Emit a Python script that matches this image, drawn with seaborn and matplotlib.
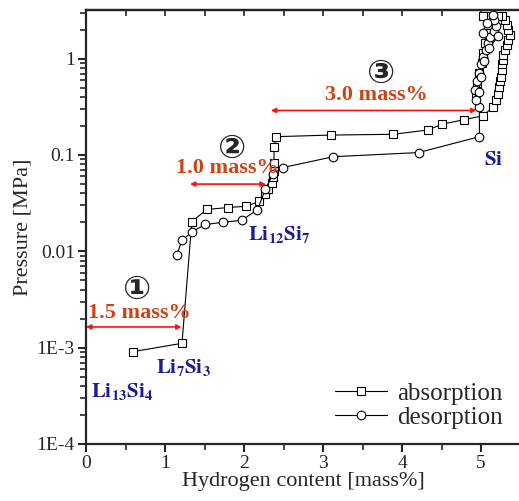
import matplotlib
matplotlib.use("Agg")
import matplotlib.pyplot as plt
from matplotlib import font_manager as fm
import seaborn as sns
import pandas as pd

# ---------------- data ----------------
abs_x = [0.60, 1.215, 1.34, 1.53, 1.80, 2.03, 2.19, 2.27, 2.31, 2.35, 2.37, 2.38, 2.38, 2.38, 2.41,
         3.10, 3.89, 4.33, 4.51, 4.78, 5.02,
         5.156, 5.19, 5.22, 5.23, 5.24, 5.25, 5.26, 5.27, 5.275, 5.28, 5.30, 5.325, 5.345, 5.37,
         5.345, 5.325, 5.30, 5.26, 5.22, 5.07, 5.03,
         5.09, 5.07, 5.05, 5.03, 5.01, 4.98, 4.95, 4.94]
abs_p = [0.00091, 0.00111, 0.0204, 0.0272, 0.0285, 0.0294, 0.033, 0.039, 0.044, 0.051, 0.059, 0.069, 0.083, 0.122, 0.155,
         0.161, 0.164, 0.182, 0.209, 0.232, 0.255,
         0.315, 0.375, 0.43, 0.51, 0.58, 0.65, 0.76, 0.87, 0.98, 1.10, 1.24, 1.40, 1.57, 1.78,
         2.0, 2.26, 2.54, 2.75, 2.75, 2.75, 2.75,
         2.26, 1.85, 1.46, 1.15, 0.90, 0.71, 0.56, 0.44]

des_x = [1.148, 1.215, 1.34, 1.51, 1.73, 1.97, 2.17, 2.27, 2.37, 2.49, 3.13, 4.21, 4.98,
         4.98, 4.94, 4.92, 4.95, 4.97, 5.00, 5.03, 5.06, 5.09, 5.12, 5.16, 5.19, 5.165, 5.15,
         5.07, 5.02, 5.22, 5.10, 5.04, 5.00, 4.97]
des_p = [0.0091, 0.013, 0.0159, 0.019, 0.020, 0.021, 0.027, 0.044, 0.064, 0.074, 0.096, 0.106, 0.155,
         0.315, 0.375, 0.47, 0.58, 0.71, 0.87, 1.04, 1.24, 1.46, 1.68, 1.92, 2.17, 2.50, 2.87,
         2.35, 1.85, 1.70, 1.30, 0.95, 0.65, 0.45]

yticks = [1e-4, 1e-3, 1e-2, 1e-1, 1]
ytick_labels = ["1E-4", "1E-3", "0.01", "0.1", "1"]
xticks = [0, 1, 2, 3, 4, 5]

# ---------------- style ----------------
sns.set_style("ticks")
plt.rcParams["font.family"] = ["Liberation Serif", "DejaVu Serif"]
plt.rcParams["mathtext.fontset"] = "stix"

fig = plt.figure(figsize=(5.19, 5.01), dpi=100)
ax = fig.add_axes([86 / 519, 57 / 501, 434.5 / 519, 434 / 501])

df_a = pd.DataFrame({"x": abs_x, "p": abs_p})
df_d = pd.DataFrame({"x": des_x, "p": des_p})

sns.lineplot(data=df_a, x="x", y="p", ax=ax, sort=False, estimator=None,
             color="black", lw=0.8, marker="s", ms=5.5, mfc="white", mec="black",
             mew=0.8, label="absorption")
sns.lineplot(data=df_d, x="x", y="p", ax=ax, sort=False, estimator=None,
             color="black", lw=0.8, marker="o", ms=6.2, mfc="white", mec="black",
             mew=0.8, label="desorption")

ax.set_yscale("log")
ax.set_xlim(0, 5.5)
ax.set_ylim(1e-4, 3.2)
ax.set_xticks(xticks)
ax.set_xticks([0.5, 1.5, 2.5, 3.5, 4.5], minor=True)
ax.set_yticks(yticks)
ax.set_yticklabels(ytick_labels)
ax.tick_params(axis="both", which="major", labelsize=14, length=6, width=1.5, direction="out", pad=2)
ax.tick_params(axis="both", which="minor", length=4, width=1.2, direction="out")
ax.set_xlabel("Hydrogen content [mass%]", fontsize=16, labelpad=0)
ax.set_ylabel("Pressure [MPa]", fontsize=16, labelpad=3)

for s in ["left", "bottom", "top"]:
    ax.spines[s].set_linewidth(1.6)
ax.spines["right"].set_visible(False)

sec = ax.secondary_xaxis("top")
sec.set_xticks(xticks)
sec.set_xticks([0.5, 1.5, 2.5, 3.5, 4.5], minor=True)
sec.tick_params(which="both", direction="in", length=4, width=1.2, labeltop=False)
sec.set_xticklabels([])
sec.spines["top"].set_linewidth(1.6)

# arrows
red = "#ff1010"
for (x0, x1, y) in [(0.0, 1.21, 0.00164), (1.316, 2.275, 0.0499), (2.34, 4.945, 0.290)]:
    ax.annotate("", xy=(x0, y), xytext=(x1, y),
                arrowprops=dict(arrowstyle="<|-|>", color=red, lw=1.2,
                                mutation_scale=7, shrinkA=0, shrinkB=0))

orange = "#cc4415"
for (t, x, y) in [("1.5 mass%", 0.67, 0.0023), ("1.0 mass%", 1.79, 0.0731), ("3.0 mass%", 3.675, 0.416)]:
    ax.text(x, y, t, color=orange, fontsize=16, fontweight="bold", ha="center", va="center")

for (t, x, y) in [("\u2460", 0.63, 0.00405), ("\u2461", 1.84, 0.118), ("\u2462", 3.72, 0.698)]:
    ax.text(x, y, t, fontsize=24, ha="center", va="center",
            family=["DejaVu Sans", "Noto Sans CJK JP"], fontweight="bold")

blue = "#1c1c96"
for (t, x, y) in [(r"$\mathbf{Li_{13}Si_4}$", 0.46, 0.000349),
                  (r"$\mathbf{Li_{7}Si_3}$", 1.23, 0.000616),
                  (r"$\mathbf{Li_{12}Si_7}$", 2.45, 0.0148),
                  (r"$\mathbf{Si}$", 5.16, 0.0878)]:
    ax.text(x, y, t, color=blue, fontsize=15, ha="center", va="center")

leg = ax.legend(loc="lower right", bbox_to_anchor=(0.96, 0.035), frameon=False,
                fontsize=18, labelspacing=0.05, handlelength=2.1, handletextpad=0.4,
                borderpad=0, borderaxespad=0, numpoints=1)

fig.savefig("out.png", dpi=100)
